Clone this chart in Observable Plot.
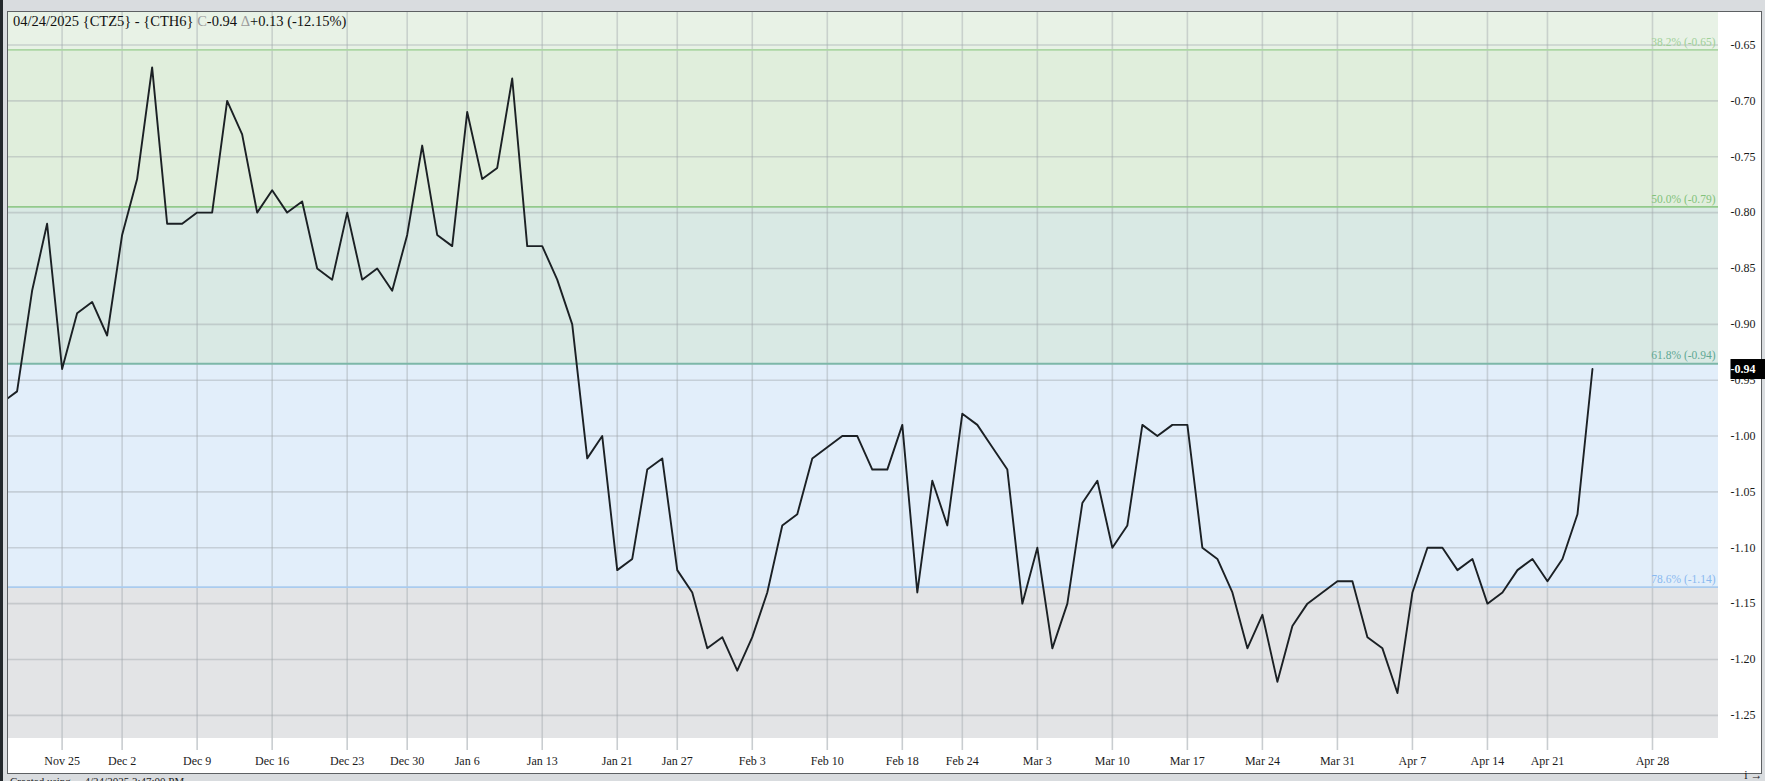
<!DOCTYPE html>
<html>
<head>
<meta charset="utf-8">
<script src="https://cdn.jsdelivr.net/npm/d3@7"></script>
<script src="https://cdn.jsdelivr.net/npm/@observablehq/plot@0.6"></script>
<style>
html,body{margin:0;padding:0;width:1765px;height:781px;overflow:hidden;background:#d9dcdf;font-family:"Liberation Serif","Times New Roman",serif;}
#strip{position:absolute;left:0;top:0;width:3px;height:781px;background:#23282c;}
#panel{position:absolute;left:7px;top:11px;width:1753px;height:761px;background:#fff;border:1px solid #5d6063;}
#chart{position:absolute;left:0;top:0;}
#title{position:absolute;left:13px;top:13px;font-size:14.5px;line-height:17px;color:#111;white-space:nowrap;}
#title .g{color:#9a9a9a;}
#caption{position:absolute;left:10px;top:775px;font-size:11px;color:#222;white-space:nowrap;}
</style>
</head>
<body>
<div id="strip"></div>
<div id="panel"></div>
<div id="chart"></div>
<div id="title">04/24/2025 {CTZ5} - {CTH6} <span class="g">C</span>-0.94 <span class="g">&#916;</span>+0.13 (-12.15%)</div>
<div id="caption">Created using ... 4/24/2025 3:47:00 PM</div>
<script>
// ---- data ----
const dates = [
  "2024-11-19","2024-11-20","2024-11-21","2024-11-22",
  "2024-11-25","2024-11-26","2024-11-27","2024-11-29",
  "2024-12-02","2024-12-03","2024-12-04","2024-12-05","2024-12-06",
  "2024-12-09","2024-12-10","2024-12-11","2024-12-12","2024-12-13",
  "2024-12-16","2024-12-17","2024-12-18","2024-12-19","2024-12-20",
  "2024-12-23","2024-12-24","2024-12-26","2024-12-27",
  "2024-12-30","2024-12-31","2025-01-02","2025-01-03",
  "2025-01-06","2025-01-07","2025-01-08","2025-01-09","2025-01-10",
  "2025-01-13","2025-01-14","2025-01-15","2025-01-16","2025-01-17",
  "2025-01-21","2025-01-22","2025-01-23","2025-01-24",
  "2025-01-27","2025-01-28","2025-01-29","2025-01-30","2025-01-31",
  "2025-02-03","2025-02-04","2025-02-05","2025-02-06","2025-02-07",
  "2025-02-10","2025-02-11","2025-02-12","2025-02-13","2025-02-14",
  "2025-02-18","2025-02-19","2025-02-20","2025-02-21",
  "2025-02-24","2025-02-25","2025-02-26","2025-02-27","2025-02-28",
  "2025-03-03","2025-03-04","2025-03-05","2025-03-06","2025-03-07",
  "2025-03-10","2025-03-11","2025-03-12","2025-03-13","2025-03-14",
  "2025-03-17","2025-03-18","2025-03-19","2025-03-20","2025-03-21",
  "2025-03-24","2025-03-25","2025-03-26","2025-03-27","2025-03-28",
  "2025-03-31","2025-04-01","2025-04-02","2025-04-03","2025-04-04",
  "2025-04-07","2025-04-08","2025-04-09","2025-04-10","2025-04-11",
  "2025-04-14","2025-04-15","2025-04-16","2025-04-17",
  "2025-04-21","2025-04-22","2025-04-23","2025-04-24"
];
const spread = [
  -0.97,-0.96,-0.87,-0.81,
  -0.94,-0.89,-0.88,-0.91,
  -0.82,-0.77,-0.67,-0.81,-0.81,
  -0.80,-0.80,-0.70,-0.73,-0.80,
  -0.78,-0.80,-0.79,-0.85,-0.86,
  -0.80,-0.86,-0.85,-0.87,
  -0.82,-0.74,-0.82,-0.83,
  -0.71,-0.77,-0.76,-0.68,-0.83,
  -0.83,-0.86,-0.90,-1.02,-1.00,
  -1.12,-1.11,-1.03,-1.02,
  -1.12,-1.14,-1.19,-1.18,-1.21,
  -1.18,-1.14,-1.08,-1.07,-1.02,
  -1.01,-1.00,-1.00,-1.03,-1.03,
  -0.99,-1.14,-1.04,-1.08,
  -0.98,-0.99,-1.01,-1.03,-1.15,
  -1.10,-1.19,-1.15,-1.06,-1.04,
  -1.10,-1.08,-0.99,-1.00,-0.99,
  -0.99,-1.10,-1.11,-1.14,-1.19,
  -1.16,-1.22,-1.17,-1.15,-1.14,
  -1.13,-1.13,-1.18,-1.19,-1.23,
  -1.14,-1.10,-1.10,-1.12,-1.11,
  -1.15,-1.14,-1.12,-1.11,
  -1.13,-1.11,-1.07,-0.94
];
const tickDates = [
  "2024-11-25","2024-12-02","2024-12-09","2024-12-16","2024-12-23","2024-12-30",
  "2025-01-06","2025-01-13","2025-01-21","2025-01-27","2025-02-03","2025-02-10",
  "2025-02-18","2025-02-24","2025-03-03","2025-03-10","2025-03-17","2025-03-24",
  "2025-03-31","2025-04-07","2025-04-14","2025-04-21","2025-04-28"
];
const yTicks = [-0.65,-0.70,-0.75,-0.80,-0.85,-0.90,-0.95,-1.00,-1.05,-1.10,-1.15,-1.20,-1.25];
const fibPct = [38.2, 50.0, 61.8, 78.6];
const fibValue = [-0.6544, -0.7949, -0.9353, -1.1353];
const fibLine = ["#acd6a4", "#93ca8c", "#7db7a8", "#a9cbef"];
const fibLabel = ["#9fd098", "#82c27b", "#5fa894", "#8ab9ef"];
const zoneFill = ["#e8f2e6", "#e0eedc", "#d9e9e4", "#e2eefa", "#e3e4e6"];

// ---- derived ----
const parse = d3.utcParse("%Y-%m-%d");
const fmt = d3.utcFormat("%b %-d");
const anchor = dates.indexOf("2024-11-25");
const series = spread.map((v, k) => ({i: k - anchor, v}));
const lastIdx = dates.length - 1 - anchor;
const lastDate = parse(dates[dates.length - 1]);
function idxOf(s) {
  const k = dates.indexOf(s);
  if (k >= 0) return k - anchor;
  return lastIdx + d3.utcDay.count(lastDate, parse(s));
}
const ticks = tickDates.map(s => ({i: idxOf(s), label: fmt(parse(s))}));
const tickLabel = new Map(ticks.map(t => [t.i, t.label]));
const xDom = [-3.573, 110.40];
const yDom = [-1.2707, -0.6209];
const fib = fibPct.map((p, k) => ({pct: p, value: fibValue[k], line: fibLine[k], label: fibLabel[k]}));
const bounds = [yDom[1], ...fibValue, yDom[0]];
const zones = zoneFill.map((c, k) => ({y1: bounds[k], y2: bounds[k + 1], fill: c}));
const gridColor = "#9ea4a9";
const last = series[series.length - 1];

const chart = Plot.plot({
  width: 1765,
  height: 781,
  marginLeft: 8,
  marginRight: 47,
  marginTop: 12,
  marginBottom: 43,
  style: {background: "transparent", fontFamily: "'Liberation Serif','Times New Roman',serif", fontSize: "12px", overflow: "visible"},
  x: {type: "linear", domain: xDom},
  y: {domain: yDom},
  color: {type: "identity"},
  marks: [
    Plot.rect(zones, {x1: () => xDom[0], x2: () => xDom[1], y1: "y1", y2: "y2", fill: "fill"}),
    Plot.gridY(yTicks, {stroke: gridColor, strokeOpacity: 0.42, strokeWidth: 1.6}),
    Plot.gridX(ticks.map(t => t.i), {stroke: gridColor, strokeOpacity: 0.42, strokeWidth: 1.6}),
    Plot.ruleY(fib, {y: "value", stroke: "line", strokeWidth: 1.8}),
    Plot.text(fib, {x: () => xDom[1], y: "value", text: d => `${d.pct.toFixed(1)}% (${d.value.toFixed(2)})`, textAnchor: "end", dx: -3, dy: -8, fill: "label", fontSize: 11.5}),
    Plot.line(series, {x: "i", y: "v", stroke: "#1b2024", strokeWidth: 1.9, clip: true}),
    Plot.axisX(ticks.map(t => t.i), {anchor: "bottom", tickSize: 12, tickPadding: 6, tickFormat: i => tickLabel.get(i), stroke: "#c9cdd0", strokeWidth: 1.6, fill: "#1a1a1a", fontSize: 12}),
    Plot.axisY(yTicks, {anchor: "right", tickSize: 0, tickPadding: 12, tickFormat: d => d.toFixed(2), fill: "#1a1a1a", fontSize: 12}),
    Plot.text([last], {
      x: () => xDom[1], y: "v", text: d => d.v.toFixed(2), textAnchor: "start", dx: 12,
      fill: "white", fontWeight: "bold", fontSize: 12,
      render: (index, scales, values, dims, context, next) => {
        const g = next(index, scales, values, dims, context);
        const yy = values.y[index[0]];
        const x0 = dims.width - dims.marginRight;
        const r = document.createElementNS("http://www.w3.org/2000/svg", "rect");
        r.setAttribute("x", x0);
        r.setAttribute("y", yy - 10);
        r.setAttribute("width", 42);
        r.setAttribute("height", 20);
        r.setAttribute("fill", "#000");
        g.insertBefore(r, g.firstChild);
        return g;
      }
    })
  ]
});
document.getElementById("chart").appendChild(chart);
</script>
</body>
</html>
